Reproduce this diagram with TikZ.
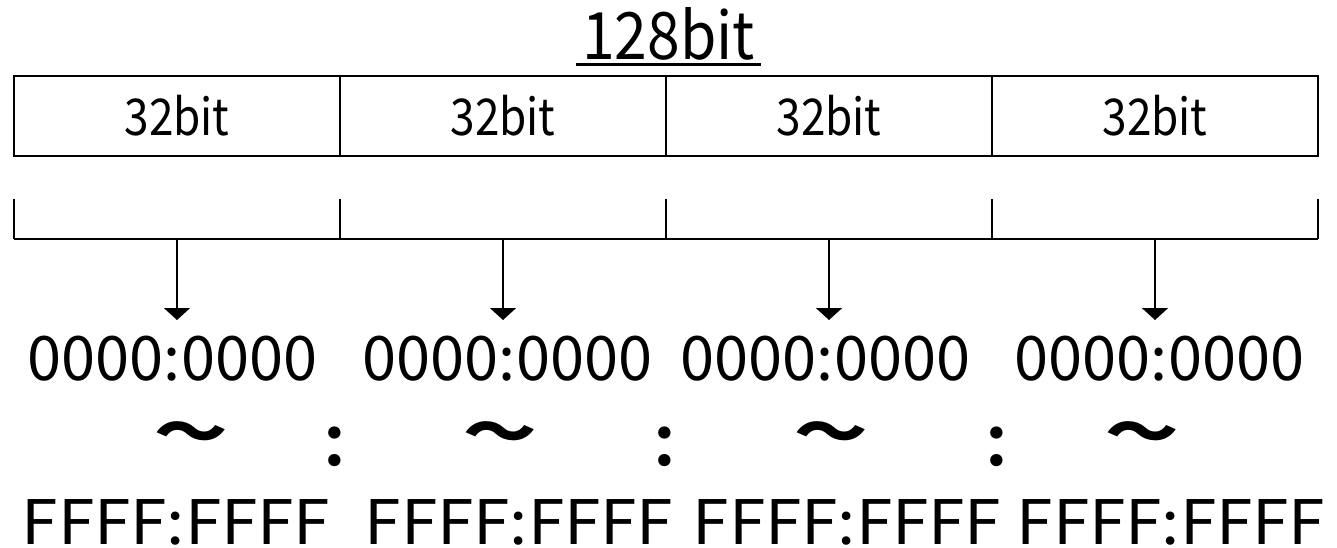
\documentclass[tikz,border=0pt]{standalone}
\usepackage{fontspec}
\setmainfont{Noto Sans CJK JP}
\usetikzlibrary{arrows.meta}
\begin{document}
\begin{tikzpicture}[x=0.75pt,y=-0.75pt,line width=1.5pt,
  seg/.style={draw,minimum width=244.5pt,minimum height=60pt,inner sep=0pt,font=\fontsize{38pt}{40pt}\selectfont},
  addr/.style={inner sep=0pt,font=\fontsize{46pt}{50pt}\selectfont},
  mid/.style={inner sep=0pt,font=\fontsize{44pt}{50pt}\selectfont\bfseries},
  arr/.style={-{Triangle[length=9pt,width=19.5pt]}},
  tick/.style={line width=1.5pt}]
\useasboundingbox (0,0) rectangle (1337,547);
% title
\node[inner xsep=3.75pt,inner ysep=3pt,font=\fontsize{49pt}{52pt}\selectfont] (title) at (668.5,33.5) {\scalebox{0.9}[1]{128bit}};
\draw[line width=2.25pt] (title.south west) -- (title.south east);
% boxes
\node[seg] (s1) at (177,116) {\scalebox{0.87}[1]{32bit}};
\node[seg] (s2) at (503,116) {\scalebox{0.87}[1]{32bit}};
\node[seg] (s3) at (829,116) {\scalebox{0.87}[1]{32bit}};
\node[seg] (s4) at (1155,116) {\scalebox{0.87}[1]{32bit}};
% bracket
\coordinate (k0) at (14,239);
\coordinate (k1) at (340,239);
\coordinate (k2) at (666,239);
\coordinate (k3) at (992,239);
\coordinate (k4) at (1318,239);
\draw[tick] (k0) -- (k4);
\foreach \k in {k0,k1,k2,k3,k4} \draw[tick] (\k) -- ++(0,-40);
\coordinate (b1) at (177,239);
\coordinate (b2) at (503,239);
\coordinate (b3) at (829,239);
\coordinate (b4) at (1155,239);
% row 1
\node[addr] (r1a) at (172.5,358.5) {0000:0000};
\node[addr] (r1b) at (507.5,358.5) {0000:0000};
\node[addr] (r1c) at (825.5,358.5) {0000:0000};
\node[addr] (r1d) at (1159.5,358.5) {0000:0000};
% arrows
\draw[arr] (b1) -- (b1 |- 0,320);
\draw[arr] (b2) -- (b2 |- 0,320);
\draw[arr] (b3) -- (b3 |- 0,320);
\draw[arr] (b4) -- (b4 |- 0,320);
% row 2
\node[mid] (w1) at (191,438) {\scalebox{1.25}[1]{〜}};
\node[mid] (w2) at (500,438) {\scalebox{1.25}[1]{〜}};
\node[mid] (w3) at (831,438) {\scalebox{1.25}[1]{〜}};
\node[mid] (w4) at (1142,438) {\scalebox{1.25}[1]{〜}};
\node[mid] (c1) at (335,448) {：};
\node[mid] (c2) at (665,448) {：};
\node[mid] (c3) at (997,448) {：};
% row 3
\node[addr] (r3a) at (176,522.5) {\scalebox{1.07}[1]{FFFF:FFFF}};
\node[addr] (r3b) at (519,522.5) {\scalebox{1.07}[1]{FFFF:FFFF}};
\node[addr] (r3c) at (847,522.5) {\scalebox{1.07}[1]{FFFF:FFFF}};
\node[addr] (r3d) at (1171,522.5) {\scalebox{1.07}[1]{FFFF:FFFF}};
\end{tikzpicture}
\end{document}
